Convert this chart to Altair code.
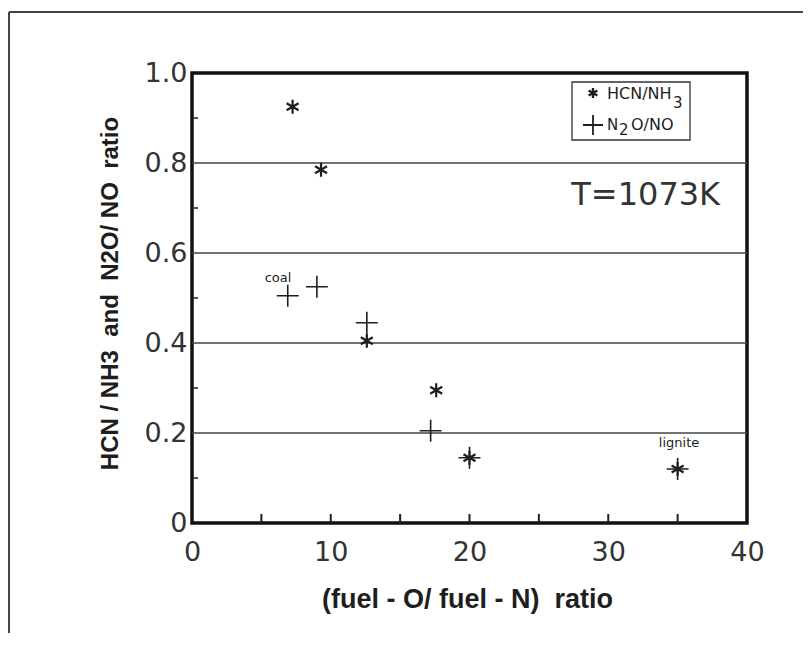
import altair as alt
import pandas as pd

# ---- data ----
hcn_x = [7.25, 9.3, 12.6, 17.6, 20.0, 35.0]
hcn_y = [0.925, 0.785, 0.405, 0.295, 0.145, 0.12]
n2o_x = [6.9, 9.0, 12.6, 17.2, 20.0, 35.0]
n2o_y = [0.505, 0.525, 0.445, 0.205, 0.145, 0.12]

x_labels = [0, 10, 20, 30, 40]
y_labels = [0, 0.2, 0.4, 0.6, 0.8, 1.0]
x_minor = [5, 10, 15, 20, 25, 30, 35]
y_minor = [0.1, 0.3, 0.5, 0.7, 0.9]
grid_y = [0.2, 0.4, 0.6, 0.8]

note_text = ["coal", "lignite"]
note_x = [6.2, 35.1]
note_y = [0.545, 0.178]
temp_text = ["T=1073K"]
temp_x = [32.7]
temp_y = [0.73]

legend_pieces = ["HCN/NH", "3", "N", "2", "O/NO"]

W, H = 555, 450
STAR = "M0,-1L0,1M-0.87,-0.5L0.87,0.5M-0.87,0.5L0.87,-0.5"
PLUS = "M-1,0L1,0M0,-1L0,1"
LIGHT = "DejaVu Sans"
BOLD = "Liberation Sans"
INK = "#1e1e1e"
SOFT = "#333333"

xs = alt.Scale(domain=[0, 40], nice=False, zero=False)
ys = alt.Scale(domain=[0, 1], nice=False, zero=False)

x_axis = alt.Axis(values=x_labels, ticks=False, domain=False, grid=False,
                  labelFont=LIGHT, labelFontSize=27, labelColor=SOFT, labelPadding=16,
                  labelFlush=False,
                  title="(fuel - O/ fuel - N)\u00a0\u00a0ratio",
                  titleFont=BOLD, titleFontSize=27, titleFontWeight="bold", titleColor=INK,
                  titleX=275, titleY=76, titleAlign="center", titleBaseline="middle")
y_axis = alt.Axis(values=y_labels, ticks=False, domain=False, grid=False,
                  labelExpr="datum.value == 0 ? '0' : format(datum.value, '.1f')",
                  labelFont=LIGHT, labelFontSize=27, labelColor=SOFT, labelPadding=5,
                  labelFlush=False,
                  title="HCN / NH3\u00a0\u00a0and\u00a0\u00a0N2O/ NO\u00a0\u00a0ratio",
                  titleFont=BOLD, titleFontSize=24, titleFontWeight="bold", titleColor=INK,
                  titleX=-82, titleY=220, titleAngle=270, titleAlign="center",
                  titleBaseline="middle")


def X(f):
    return alt.X(f, scale=xs, axis=x_axis)


def Y(f):
    return alt.Y(f, scale=ys, axis=y_axis)


hcn = pd.DataFrame({"x": hcn_x, "y": hcn_y})
n2o = pd.DataFrame({"x": n2o_x, "y": n2o_y})

stars = alt.Chart(hcn).mark_point(shape=STAR, filled=False, stroke=INK, strokeWidth=2.2,
                                  size=190, opacity=1).encode(x=X("x:Q"), y=Y("y:Q"))

pluses = alt.Chart(n2o).mark_point(shape=PLUS, filled=False, stroke=INK, strokeWidth=1.6,
                                   size=480, opacity=1).encode(x=X("x:Q"), y=Y("y:Q"))

grid = alt.Chart(pd.DataFrame({"g": grid_y})).mark_rule(color="#444", strokeWidth=1.6).encode(
    y=Y("g:Q"))

xt = alt.Chart(pd.DataFrame({"t": x_minor})).mark_rule(color=INK, strokeWidth=2).encode(
    x=X("t:Q"), y=alt.value(H), y2=alt.value(H - 9))

yt = alt.Chart(pd.DataFrame({"t": y_minor})).mark_rule(color=INK, strokeWidth=1.5).encode(
    y=Y("t:Q"), x=alt.value(0), x2=alt.value(6))

notes = alt.Chart(pd.DataFrame({"x": note_x, "y": note_y, "t": note_text})).mark_text(
    font=LIGHT, fontSize=13, color=INK, align="center", baseline="middle").encode(
    x=X("x:Q"), y=Y("y:Q"), text="t:N")

temp = alt.Chart(pd.DataFrame({"x": temp_x, "y": temp_y, "t": temp_text})).mark_text(
    font=LIGHT, fontSize=32, color=SOFT, align="center", baseline="middle").encode(
    x=X("x:Q"), y=Y("y:Q"), text="t:N")

# ---- hand-drawn legend box (top right) ----
one = pd.DataFrame({"a": [0]})
leg_box = alt.Chart(one).mark_rect(fill="white", stroke="#333", strokeWidth=1.3).encode(
    x=alt.value(380), x2=alt.value(498), y=alt.value(9), y2=alt.value(67))
leg_star = alt.Chart(one).mark_point(shape=STAR, filled=False, stroke=INK, strokeWidth=2.4,
                                     size=100, opacity=1).encode(
    x=alt.value(401), y=alt.value(20))
leg_plus = alt.Chart(one).mark_point(shape=PLUS, filled=False, stroke=INK, strokeWidth=1.8,
                                     size=400, opacity=1).encode(
    x=alt.value(401), y=alt.value(52))


def leg_text(piece, px, py, size):
    return alt.Chart(pd.DataFrame({"t": [piece]})).mark_text(
        font=LIGHT, fontSize=size, color=INK, align="left", baseline="middle").encode(
        x=alt.value(px), y=alt.value(py), text="t:N")


leg_texts = [
    leg_text(legend_pieces[0], 415, 21, 16),
    leg_text(legend_pieces[1], 481, 30, 15),
    leg_text(legend_pieces[2], 415, 52, 15),
    leg_text(legend_pieces[3], 427, 57, 15),
    leg_text(legend_pieces[4], 439, 52, 16),
]

# ---- outer scanned frame (top and left edges) ----
frame_top = alt.Chart(one).mark_rule(color="#444", strokeWidth=2).encode(
    x=alt.value(-183), x2=alt.value(620), y=alt.value(-61))
frame_left = alt.Chart(one).mark_rule(color="#444", strokeWidth=2).encode(
    x=alt.value(-183), y=alt.value(-61), y2=alt.value(580))

chart = alt.layer(
    grid, xt, yt, stars, pluses, notes, temp,
    leg_box, leg_star, leg_plus, *leg_texts, frame_top, frame_left
).properties(
    width=W, height=H,
    autosize=alt.AutoSizeParams(type="none"),
    padding={"left": 184, "top": 65, "right": 56, "bottom": 110},
    background="white"
).configure_view(stroke="#111", strokeWidth=3.5)

chart.save("out.html", embed_options={"renderer": "svg", "actions": False})
